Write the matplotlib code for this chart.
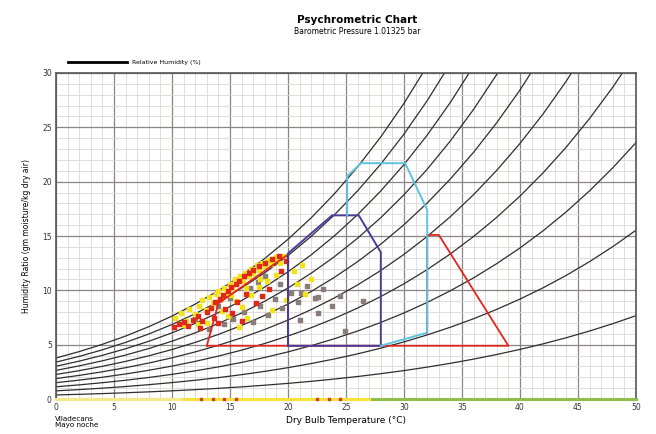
import numpy as np
import matplotlib
matplotlib.use("Agg")
import matplotlib.pyplot as plt

# saturation vapour pressure table (kPa) every 2 C
temps = [0, 2, 4, 6, 8, 10, 12, 14, 16, 18, 20, 22, 24, 26, 28, 30,
         32, 34, 36, 38, 40, 42, 44, 46, 48, 50]
p_sat = [0.6113, 0.7060, 0.8135, 0.9353, 1.0729, 1.2281, 1.4027, 1.5989,
         1.8187, 2.0647, 2.3392, 2.6452, 2.9856, 3.3637, 3.7828, 4.2467,
         4.7592, 5.3247, 5.9479, 6.6335, 7.3838, 8.2054, 9.1075, 10.094,
         11.171, 12.344]
p_atm = 101.325
rh_levels = [10, 20, 30, 40, 50, 60, 70, 80, 90, 100]

# comfort zones (T, w)
red_zone_t = [20, 20, 14, 13, 39, 33, 32, 32]
red_zone_w = [4.9, 13.3, 8.8, 4.9, 4.9, 15.1, 15.1, 6.0]
purple_zone_t = [20, 20, 23.8, 26.1, 28, 28, 20]
purple_zone_w = [4.9, 13.4, 16.9, 16.9, 13.5, 4.9, 4.9]
cyan_zone_t = [25.1, 25.1, 26.3, 30.1, 32, 32, 28]
cyan_zone_w = [16.9, 20.5, 21.7, 21.7, 17.4, 6.1, 4.9]

# measurements
yellow_t = [10.3, 10.8, 11.2, 11.5, 12.0, 12.3, 12.6, 12.9, 13.2, 13.5, 13.8, 14.0,
            14.2, 14.5, 14.7, 15.0, 15.2, 15.4, 15.6, 15.9, 16.1, 16.3, 16.6, 16.8,
            17.0, 17.3, 17.5, 17.8, 18.0, 18.3, 18.5, 18.8, 19.0, 19.3, 19.6, 14.3,
            15.5, 16.0, 16.8, 17.5, 18.2, 19.0, 13.0, 12.2, 14.8, 16.5, 18.6, 20.5,
            21.2, 20.8, 21.5, 22.0, 19.8, 15.8, 11.0, 15.1, 16.4, 17.6]
yellow_w = [7.5, 7.9, 7.2, 8.3, 7.8, 8.6, 9.1, 8.2, 9.4, 8.8, 9.7, 9.9,
            9.2, 10.2, 9.8, 10.6, 10.2, 11.0, 10.7, 11.3, 10.9, 11.6, 11.3, 12.0,
            11.6, 12.3, 11.9, 12.5, 12.2, 12.8, 12.4, 12.9, 13.1, 12.5, 13.2, 8.1,
            9.0, 8.5, 9.6, 10.3, 10.9, 11.4, 7.0, 6.9, 7.6, 7.5, 8.2, 11.8,
            12.3, 10.6, 9.7, 11.0, 9.1, 6.6, 6.8, 9.6, 10.2, 11.0]
red_t = [10.2, 10.6, 11.0, 11.4, 11.8, 12.2, 12.6, 13.0, 13.4, 13.7, 14.1, 14.4,
         14.8, 15.1, 15.5, 15.8, 16.2, 16.6, 17.0, 17.5, 18.0, 18.6, 19.2, 13.6,
         14.6, 15.6, 16.4, 17.2, 18.4, 19.4, 12.4, 14.0, 15.2, 16.0, 17.8, 19.8]
red_w = [6.6, 6.9, 7.1, 6.7, 7.3, 7.6, 7.2, 8.0, 8.4, 8.9, 9.2, 9.6,
         9.9, 10.3, 10.6, 10.9, 11.3, 11.6, 11.9, 12.2, 12.5, 12.9, 13.2, 7.5,
         8.3, 8.9, 9.7, 8.8, 10.1, 11.8, 6.5, 7.0, 7.9, 7.2, 9.5, 12.7]
grey_t = [13.2, 14.5, 15.3, 16.2, 17.0, 17.6, 18.3, 18.9, 19.5, 20.3, 20.9, 21.6,
          22.3, 23.0, 23.8, 24.5, 21.0, 22.6, 24.9, 26.5, 16.7, 15.0, 18.0, 19.3,
          14.0, 12.0, 17.4, 21.1, 22.6]
grey_w = [6.4, 6.9, 7.4, 8.0, 7.1, 8.6, 7.7, 9.2, 8.4, 9.8, 8.9, 10.4,
          9.3, 10.1, 8.6, 9.5, 7.3, 7.9, 6.3, 9.0, 10.2, 9.3, 11.3, 10.6,
          8.6, 7.4, 10.8, 9.8, 9.4]

# readings at w = 0 along the axis
band_light_t = [0, 11]
band_strong_t = [11, 27]
band_red_t = [12.5, 13.5, 14.5, 15.5, 22.5, 23.5, 24.5]

fig = plt.figure(figsize=(6.56, 4.34), dpi=100)
ax = fig.add_axes([0.0854, 0.0806, 0.8841, 0.7512])

ax.set_xlim(0, 50)
ax.set_ylim(0, 30)
ax.set_xticks(range(0, 51, 5))
ax.set_yticks(range(0, 31, 5))
ax.set_xticks(range(0, 51, 1), minor=True)
ax.set_yticks(range(0, 31, 1), minor=True)
ax.grid(which="minor", color="#ddd6d6", linewidth=0.6)
ax.grid(which="major", color="#8c8484", linewidth=0.9)
ax.tick_params(which="both", length=0)
ax.tick_params(labelsize=5.5, colors="#333333", pad=3)
for s in ax.spines.values():
    s.set_color("#555555")
    s.set_linewidth(1.2)

ps = np.array(p_sat)
for rh in rh_levels:
    pv = rh / 100 * ps
    w = 622 * pv / (p_atm - pv)
    ax.plot(temps, w, color="#2e2e2e", linewidth=0.9, zorder=2)

# bottom band
ax.plot([0, 50], [0, 0], color="#8fbf4a", linewidth=2.2, zorder=3, clip_on=False)
ax.plot(band_light_t, [0, 0], color="#f2e98a", linewidth=2.2, zorder=3, clip_on=False)
ax.plot(band_strong_t, [0, 0], color="#f5e23a", linewidth=2.2, zorder=3, clip_on=False)
ax.scatter(band_red_t, [0] * len(band_red_t), s=3, color="#d04020", marker="s",
           zorder=4, clip_on=False)

ax.scatter(grey_t, grey_w, s=5, color="#8a7c78", marker="s", zorder=3)
ax.scatter(yellow_t, yellow_w, s=9, color="#f2e21a", marker="s", zorder=4)
ax.scatter(red_t, red_w, s=7, color="#e02818", marker="s", zorder=5)

ax.plot(red_zone_t[:4], red_zone_w[:4], color="#e0261e", linewidth=1.3, zorder=6)
ax.plot(red_zone_t[3:], red_zone_w[3:], color="#e0261e", linewidth=1.3, zorder=6)
ax.plot(purple_zone_t, purple_zone_w, color="#4a3c9a", linewidth=1.4, zorder=7)
ax.plot(cyan_zone_t, cyan_zone_w, color="#5cc4e0", linewidth=1.4, zorder=8)

# titles and labels
fig.text(0.545, 0.955, "Psychrometric Chart", ha="center", va="center",
         fontsize=7.5, fontweight="bold")
fig.text(0.545, 0.928, "Barometric Pressure 1.01325 bar", ha="center", va="center",
         fontsize=5.5)
ax.set_xlabel("Dry Bulb Temperature (°C)", fontsize=6.5, labelpad=3)
ax.set_ylabel("Humidity Ratio (gm moisture/kg dry air)", fontsize=5.5, labelpad=8)
fig.text(0.084, 0.042, "Viladecans\nMayo noche", ha="left", va="top",
         fontsize=5.2, linespacing=0.95)

# legend
fig.lines.append(plt.Line2D([0.104, 0.194], [0.857, 0.857], color="black",
                            linewidth=2, transform=fig.transFigure))
fig.text(0.201, 0.857, "Relative Humidity (%)", ha="left", va="center", fontsize=4.5)

fig.savefig("out.png", dpi=100)
plt.close()
